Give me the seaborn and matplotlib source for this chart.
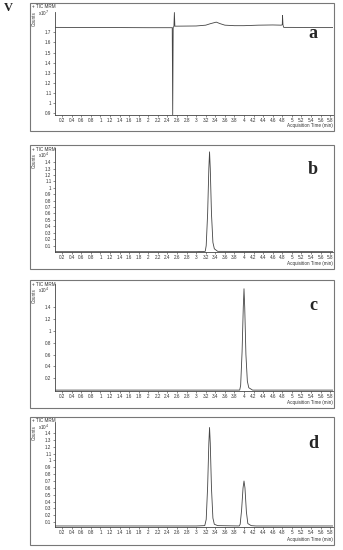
import numpy as np
import pandas as pd
import matplotlib
matplotlib.use("Agg")
import matplotlib.pyplot as plt
import seaborn as sns
from matplotlib.patches import Rectangle

sns.set_theme(style="white")
plt.rcParams['font.family'] = ['Liberation Sans', 'DejaVu Sans']

# panel a: blank (baseline TIC), values in x10^7 counts
t_a = [0.05, 1.0, 2.0, 2.50, 2.51, 2.52, 2.535, 2.545, 2.555, 3.0, 3.2, 3.3,
       3.42, 3.5, 3.6, 3.8, 4.0, 4.3, 4.6, 4.78, 4.80, 4.805, 4.815, 4.83,
       5.0, 5.5, 5.86]
c_a = [1.748, 1.747, 1.745, 1.745, 0.885, 1.750, 1.755, 1.895, 1.760, 1.762,
       1.770, 1.785, 1.800, 1.785, 1.770, 1.765, 1.765, 1.770, 1.772, 1.770,
       1.775, 1.865, 1.772, 1.748, 1.748, 1.746, 1.746]

# panel b: first analyte, x10^4 counts
t_b = [0.05, 3.0, 3.19, 3.21, 3.24, 3.265, 3.28, 3.295, 3.32, 3.35, 3.38, 3.45, 5.86]
c_b = [0.005, 0.005, 0.01, 0.10, 0.60, 1.30, 1.56, 1.30, 0.60, 0.15, 0.05,
       0.01, 0.005]

# panel c: second analyte, x10^4 counts
t_c = [0.05, 3.8, 3.91, 3.93, 3.96, 3.985, 4.00, 4.015, 4.04, 4.07, 4.10, 4.18, 5.86]
c_c = [0.0, 0.0, 0.0, 0.08, 0.65, 1.40, 1.71, 1.40, 0.60, 0.15, 0.04, 0.0, 0.0]

# panel d: mixture, x10^4 counts
t_d = [0.05, 3.0, 3.18, 3.21, 3.24, 3.265, 3.28, 3.295, 3.32, 3.35, 3.38, 3.45,
       3.9, 3.92, 3.95, 3.98, 4.00, 4.02, 4.05, 4.08, 4.15, 4.25, 5.86]
c_d = [0.045, 0.045, 0.05, 0.14, 0.62, 1.25, 1.48, 1.25, 0.60, 0.16, 0.07,
       0.05, 0.045, 0.07, 0.28, 0.60, 0.70, 0.60, 0.25, 0.08, 0.05, 0.045, 0.045]

x_ticks = [round(0.2 * i, 1) for i in range(1, 30)]
yticks_a = [0.9, 1.0, 1.1, 1.2, 1.3, 1.4, 1.5, 1.6, 1.7]
yticks_b = [round(0.1 * i, 1) for i in range(1, 15)]
yticks_c = [0.2, 0.4, 0.6, 0.8, 1.0, 1.2, 1.4]
yticks_d = yticks_b

panels = [
    # (time, counts, yticks, ylim, exponent, letter, box top/bottom, axes top/bottom px)
    (t_a, c_a, yticks_a, (0.883, 1.90), "7", "a", (3, 131), (12, 115)),
    (t_b, c_b, yticks_b, (0.0, 1.62), "4", "b", (145, 269), (148, 252)),
    (t_c, c_c, yticks_c, (-0.015, 1.79), "4", "c", (280, 408), (284, 391)),
    (t_d, c_d, yticks_d, (0.03, 1.56), "4", "d", (417, 545), (422, 527)),
]

W, H = 343, 550
fig = plt.figure(figsize=(W / 100, H / 100), dpi=100)

def fx(x):
    return x / W

def fy(y):
    return 1 - y / H

ax_left, ax_right = 55, 333
small = 3.3

for t, c, yt, ylim, expo, letter, (bt, bb), (at, ab) in panels:
    fig.patches.append(Rectangle((fx(30), fy(bb)), fx(334) - fx(30), fy(bt) - fy(bb),
                                 transform=fig.transFigure, fill=False,
                                 edgecolor="#777777", lw=0.8))
    ax = fig.add_axes([fx(ax_left), fy(ab), fx(ax_right) - fx(ax_left), fy(at) - fy(ab)])
    ax.patch.set_alpha(0)
    df = pd.DataFrame({"time": t, "counts": c})
    sns.lineplot(data=df, x="time", y="counts", sort=False, estimator=None,
                 color="#444444", lw=0.6, ax=ax)
    ax.set_xlim(0.05, 5.86)
    ax.set_ylim(*ylim)
    ax.set_xticks(x_ticks)
    ax.set_xticklabels([f"{v:g}" for v in x_ticks])
    ax.set_yticks(yt)
    ax.set_yticklabels([f"{v:g}" for v in yt])
    ax.tick_params(axis="both", labelsize=small, length=1.5, width=0.4, pad=1,
                   colors="#333333", bottom=True, left=True)
    ax.set_xlabel("")
    ax.set_ylabel("")
    for s in ["top", "right"]:
        ax.spines[s].set_visible(False)
    for s in ["left", "bottom"]:
        ax.spines[s].set_color("#444444")
        ax.spines[s].set_linewidth(0.6)

    fig.text(fx(32), fy(bt + 4), "+ TIC MRM", fontsize=small, color="#333333",
             ha="left", va="center")
    fig.text(fx(34), fy(bt + 8), "Counts", fontsize=small, color="#333333",
             rotation=90, ha="center", va="top")
    fig.text(fx(38), fy(bt + 10), "x10$^{" + expo + "}$", fontsize=small,
             color="#333333", ha="left", va="center")
    fig.text(fx(333), fy(bb - 3), "Acquisition Time (min)", fontsize=small,
             color="#333333", ha="right", va="bottom")
    fig.text(fx(313), fy(at + 22), letter, fontsize=13, fontweight="bold",
             family="Liberation Serif", ha="center", va="center")

fig.text(fx(8), fy(8), "V", fontsize=9, fontweight="bold",
         family="Liberation Serif", ha="center", va="center")

fig.savefig("out.png", dpi=100)
